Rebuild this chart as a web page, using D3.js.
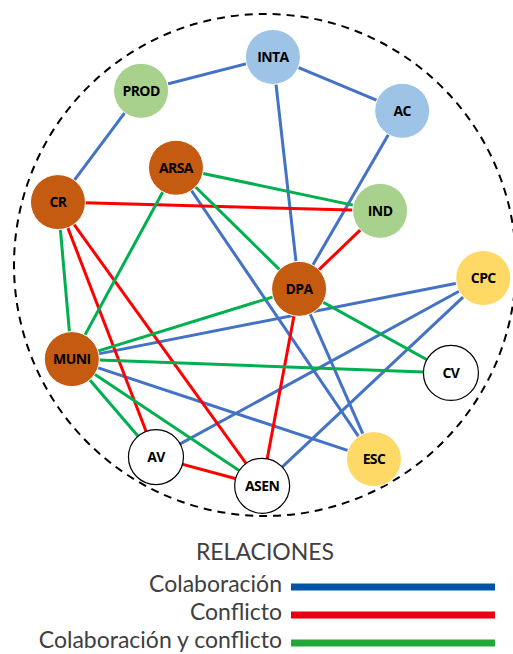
<!DOCTYPE html>
<html>
<head>
<meta charset="utf-8">
<script src="https://cdn.jsdelivr.net/npm/d3@7"></script>
<style>
  body { margin: 0; background: #fff; }
  svg { display: block; }
</style>
</head>
<body>
<div id="chart"></div>
<script>
// Actors of the network and their group
var actors = ["PROD", "INTA", "AC", "ARSA", "CR", "IND", "DPA", "CPC", "MUNI", "CV", "AV", "ASEN", "ESC"];
var groups = ["prod", "state", "state", "local", "local", "prod", "local", "civil", "local", "other", "other", "other", "civil"];

// Layout of actors in a 0-100 grid
var layoutX = [27.5, 53.2, 78.4, 34.3, 11.3, 74.1, 58.3, 94.2, 14.0, 87.9, 30.4, 51.1, 72.9];
var layoutY = [17.7, 11.1, 21.6, 32.7, 39.4, 41.1, 56.3, 54.2, 70.0, 72.7, 89.1, 94.7, 89.5];

// Relations: [from, to, type]
var relations = [
  ["PROD", "INTA", "colab"], ["PROD", "CR", "colab"], ["INTA", "AC", "colab"],
  ["INTA", "DPA", "colab"], ["AC", "DPA", "colab"], ["ARSA", "ESC", "colab"],
  ["DPA", "ESC", "colab"], ["MUNI", "CPC", "colab"], ["MUNI", "ESC", "colab"],
  ["AV", "CPC", "colab"], ["ASEN", "CPC", "colab"],
  ["CR", "IND", "conf"], ["IND", "DPA", "conf"], ["CR", "AV", "conf"],
  ["CR", "ASEN", "conf"], ["AV", "ASEN", "conf"], ["DPA", "ASEN", "conf"],
  ["ARSA", "IND", "both"], ["ARSA", "DPA", "both"], ["ARSA", "MUNI", "both"],
  ["CR", "MUNI", "both"], ["DPA", "MUNI", "both"], ["DPA", "CV", "both"],
  ["MUNI", "CV", "both"], ["MUNI", "AV", "both"], ["MUNI", "ASEN", "both"]
];

var legendTypes = ["colab", "conf", "both"];
var legendLabels = ["Colaboración", "Conflicto", "Colaboración y conflicto"];

var svgWidth = 513;
var svgHeight = 654;

var svg = d3.select("#chart")
  .append("svg")
  .attr("width", svgWidth)
  .attr("height", svgHeight);

// 0-100 grid onto the network area
var x = d3.scaleLinear().domain([0, 100]).range([0, 513]);
var y = d3.scaleLinear().domain([0, 100]).range([0, 513]);

var groupColor = d3.scaleOrdinal()
  .domain(["local", "prod", "state", "civil", "other"])
  .range(["#C55A11", "#A9D18E", "#9DC3E6", "#FFD966", "#FFFFFF"]);

var edgeColor = d3.scaleOrdinal()
  .domain(["colab", "conf", "both"])
  .range(["#4472C4", "#FF0000", "#00B050"]);

var legendColor = d3.scaleOrdinal()
  .domain(["colab", "conf", "both"])
  .range(["#0054A3", "#E60012", "#22A838"]);

var nodes = actors.map(function(a, i) {
  return { id: a, group: groups[i], x: x(layoutX[i]), y: y(layoutY[i]) };
});
var byId = {};
nodes.forEach(function(n) { byId[n.id] = n; });

// dashed boundary circle
svg.append("circle")
  .attr("cx", 265)
  .attr("cy", 265)
  .attr("r", 251)
  .attr("fill", "none")
  .attr("stroke", "#000")
  .attr("stroke-width", 2)
  .attr("stroke-dasharray", "8,6");

svg.append("g")
  .selectAll("line")
  .data(relations)
  .enter()
  .append("line")
  .attr("x1", d => byId[d[0]].x)
  .attr("y1", d => byId[d[0]].y)
  .attr("x2", d => byId[d[1]].x)
  .attr("y2", d => byId[d[1]].y)
  .attr("stroke", d => edgeColor(d[2]))
  .attr("stroke-width", 3);

var nodeGroup = svg.append("g")
  .selectAll("g")
  .data(nodes)
  .enter()
  .append("g")
  .attr("transform", d => `translate(${d.x}, ${d.y})`);

nodeGroup.append("circle")
  .attr("r", 27.5)
  .attr("fill", d => groupColor(d.group))
  .attr("stroke", d => d.group == "other" ? "#000" : "#fff")
  .attr("stroke-width", d => d.group == "other" ? 1.2 : 1);

nodeGroup.append("text")
  .attr("text-anchor", "middle")
  .attr("dy", "0.36em")
  .attr("font-family", "Open Sans, sans-serif")
  .attr("font-weight", "bold")
  .attr("font-size", 14)
  .attr("letter-spacing", -0.6)
  .attr("fill", "#000")
  .text(d => d.id);

// legend
var legend = svg.append("g");

legend.append("text")
  .attr("x", 265)
  .attr("y", 560)
  .attr("text-anchor", "middle")
  .attr("font-family", "Lato, sans-serif")
  .attr("font-size", 23)
  .attr("fill", "#404040")
  .text("RELACIONES");

var rows = legend.selectAll(".row")
  .data(legendTypes)
  .enter()
  .append("g")
  .attr("class", "row")
  .attr("transform", (d, i) => `translate(0, ${587 + i * 28})`);

rows.append("line")
  .attr("x1", 291)
  .attr("x2", 495)
  .attr("stroke", d => legendColor(d))
  .attr("stroke-width", 7);

rows.append("text")
  .attr("x", 282)
  .attr("y", 5)
  .attr("text-anchor", "end")
  .attr("font-family", "Lato, sans-serif")
  .attr("font-size", 23)
  .attr("fill", "#404040")
  .text((d, i) => legendLabels[i]);
</script>
</body>
</html>
